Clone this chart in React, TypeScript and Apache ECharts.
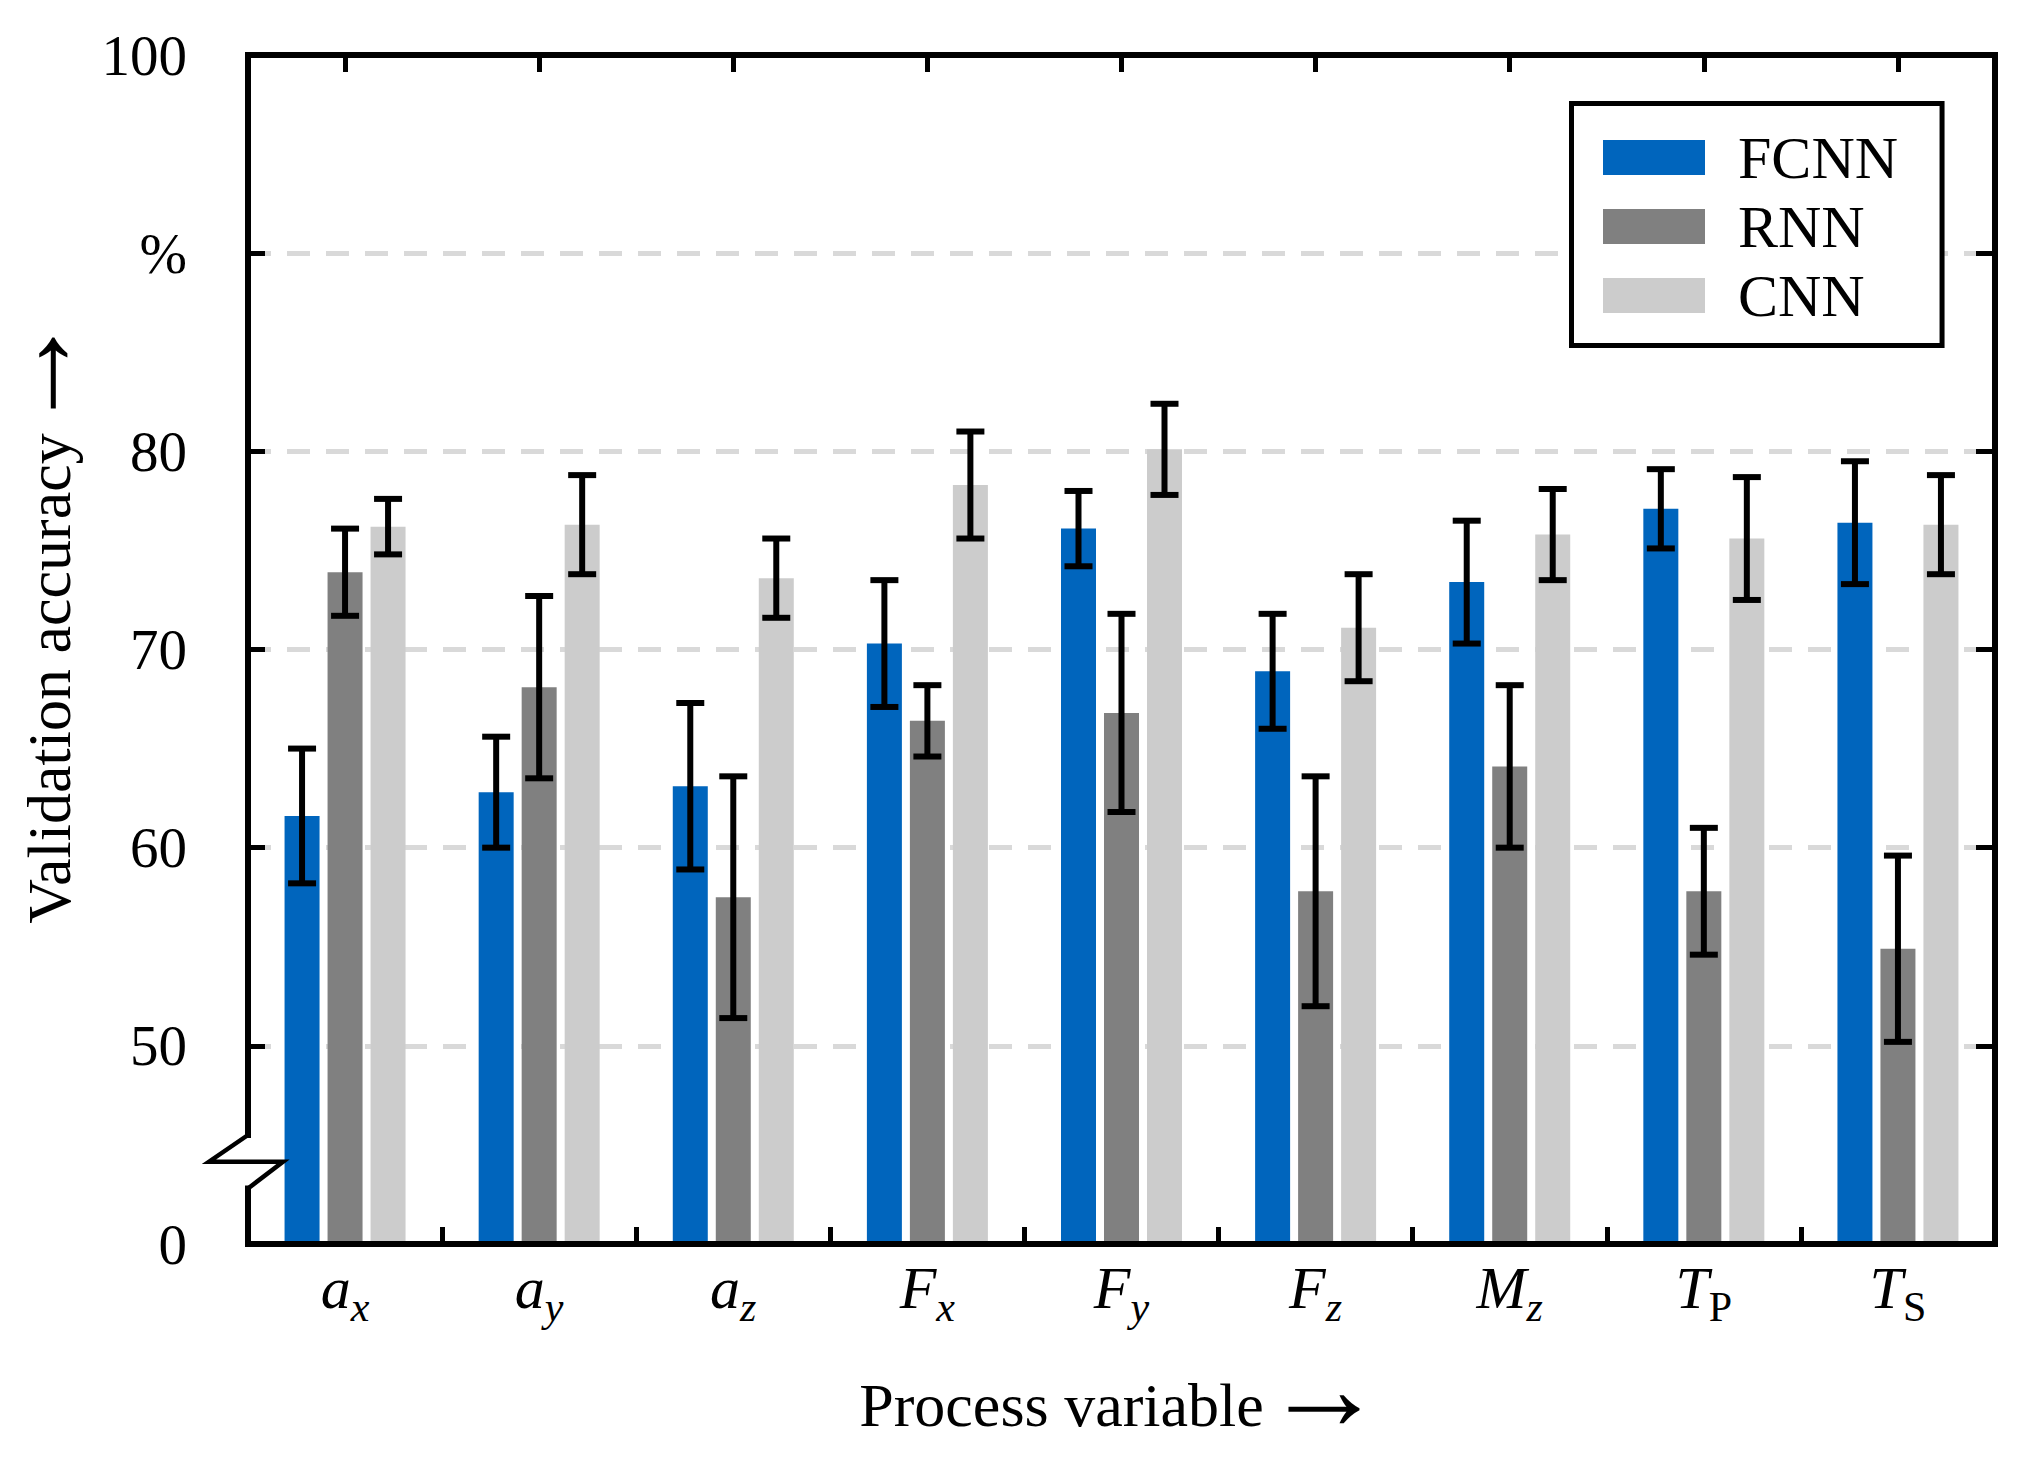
import { useEffect, useRef } from "react";
import * as echarts from "echarts";

// process variables: main symbol _ subscript
const CATEGORIES = ["a_x", "a_y", "a_z", "F_x", "F_y", "F_z", "M_z", "T_P", "T_S"];

const FCNN = [61.6, 62.8, 63.1, 70.3, 76.1, 68.9, 73.4, 77.1, 76.4];
const FCNN_ERR = [3.4, 2.8, 4.2, 3.2, 1.9, 2.9, 3.1, 2.0, 3.1];
const RNN = [73.9, 68.1, 57.5, 66.4, 66.8, 57.8, 64.1, 57.8, 54.9];
const RNN_ERR = [2.2, 4.6, 6.1, 1.8, 5.0, 5.8, 4.1, 3.2, 4.7];
const CNN = [76.2, 76.3, 73.6, 78.3, 80.1, 71.1, 75.8, 75.6, 76.3];
const CNN_ERR = [1.4, 2.5, 2.0, 2.7, 2.3, 2.7, 2.3, 3.1, 2.5];

// y axis is broken: the bottom tick (40) is shown as 0, 90 is shown as %
const Y_MIN = 40;
const Y_MAX = 100;
const Y_STEP = 10;
const BREAK_VALUES = [45.5, 44.15, 42.8];

const COLORS = { FCNN: "#0065bd", RNN: "#808080", CNN: "#cccccc" };
const FONT = "'Liberation Serif', 'Times New Roman', serif";
const GRID = { left: 248, right: 48, top: 55, bottom: 231 };
const BAR_W = 35;
const BAR_GAP = 8;
const LINE_W = 6;

const SERIES = [
    { name: "FCNN", values: FCNN, err: FCNN_ERR },
    { name: "RNN", values: RNN, err: RNN_ERR },
    { name: "CNN", values: CNN, err: CNN_ERR },
];

export default function App() {
    const ref = useRef<HTMLDivElement | null>(null);

    useEffect(() => {
        if (!ref.current) return;
        const chart = echarts.init(ref.current, undefined, { renderer: "svg" });

        const barSeries = SERIES.map((s) => ({
            name: s.name,
            type: "bar" as const,
            barWidth: BAR_W,
            barGap: `${(BAR_GAP / BAR_W) * 100}%`,
            itemStyle: { color: (COLORS as any)[s.name] },
            data: s.values,
            z: 2,
        }));

        // error bars, shifted onto their bar inside each group
        const errSeries = SERIES.map((s, si) => ({
            type: "custom" as const,
            name: s.name + " err",
            z: 4,
            encode: { x: 0, y: [1, 2] },
            data: s.values.map((v, i) => [i, +(v - s.err[i]).toFixed(2), +(v + s.err[i]).toFixed(2)]),
            renderItem: (_p: any, api: any) => {
                const off = (si - 1) * (BAR_W + BAR_GAP);
                const top = api.coord([api.value(0), api.value(2)]);
                const bot = api.coord([api.value(0), api.value(1)]);
                const x = top[0] + off;
                const cap = 14;
                const style = { stroke: "#000", lineWidth: 6, fill: "none" };
                return {
                    type: "group",
                    children: [
                        { type: "line", shape: { x1: x, y1: top[1], x2: x, y2: bot[1] }, style },
                        { type: "line", shape: { x1: x - cap, y1: top[1], x2: x + cap, y2: top[1] }, style },
                        { type: "line", shape: { x1: x - cap, y1: bot[1], x2: x + cap, y2: bot[1] }, style },
                    ],
                };
            },
        }));

        const frameLine = { show: true, lineStyle: { color: "#000", width: LINE_W, cap: "square" as const } };
        const tickStyle = { color: "#000", width: 5 };
        const arrowRich = {
            a: { fontFamily: FONT, fontSize: 120, lineHeight: 62, color: "#000", padding: [0, 0, 34, 0] },
        };

        chart.setOption({
            animation: false,
            backgroundColor: "#fff",
            grid: { ...GRID, containLabel: false, outerBoundsMode: "none" },
            legend: {
                orient: "vertical",
                left: 1571.5,
                top: 103.5,
                padding: [24, 44, 20, 31.5],
                itemWidth: 102,
                itemHeight: 35,
                itemGap: 9,
                icon: "rect",
                borderColor: "#000",
                borderWidth: 5,
                borderRadius: 0,
                backgroundColor: "#fff",
                selectedMode: false,
                textStyle: { fontFamily: FONT, fontSize: 60, color: "#000", lineHeight: 60, padding: [0, 0, 0, 28] },
                data: SERIES.map((s) => s.name),
            },
            xAxis: [
                {
                    type: "category",
                    data: CATEGORIES,
                    position: "bottom",
                    z: 5,
                    axisLine: frameLine,
                    axisTick: { show: true, inside: true, length: 17, lineStyle: tickStyle },
                    axisLabel: {
                        margin: 4,
                        interval: 0,
                        formatter: (v: string) => {
                            const [m, s] = v.split("_");
                            const roman = s === "P" || s === "S";
                            return `{m|${m}}{${roman ? "r" : "s"}|${s}}`;
                        },
                        rich: {
                            m: { fontFamily: FONT, fontStyle: "italic", fontSize: 60, color: "#000", lineHeight: 60 },
                            s: { fontFamily: FONT, fontStyle: "italic", fontSize: 42, color: "#000", padding: [38, 0, 0, 0] },
                            r: { fontFamily: FONT, fontSize: 42, color: "#000", padding: [38, 0, 0, 0] },
                        },
                    },
                    name: "Process variable{a|→}",
                    nameLocation: "middle",
                    nameGap: 130,
                    nameMoveOverlap: false,
                    nameTextStyle: { fontFamily: FONT, fontSize: 62, lineHeight: 62, color: "#000", rich: arrowRich },
                },
                {
                    type: "category",
                    data: CATEGORIES,
                    position: "top",
                    z: 5,
                    axisLine: frameLine,
                    axisTick: { show: true, inside: true, alignWithLabel: true, length: 17, lineStyle: tickStyle },
                    axisLabel: { show: false },
                },
            ],
            yAxis: [
                {
                    type: "value",
                    min: Y_MIN,
                    max: Y_MAX,
                    interval: Y_STEP,
                    z: 0,
                    axisLine: { show: false },
                    axisTick: { show: true, inside: true, length: 17, lineStyle: tickStyle },
                    axisLabel: {
                        margin: 61,
                        fontFamily: FONT,
                        fontSize: 57,
                        color: "#000",
                        formatter: (v: number) => (v === Y_MIN ? "0" : v === 90 ? "%" : String(v)),
                    },
                    splitLine: { show: true, lineStyle: { color: "#d9d9d9", width: 5, type: [23, 16] } },
                    name: "Validation accuracy{a|→}",
                    nameLocation: "middle",
                    nameGap: 168,
                    nameMoveOverlap: false,
                    nameTextStyle: {
                        fontFamily: FONT,
                        fontSize: 62,
                        lineHeight: 62,
                        color: "#000",
                        padding: [0, 0, 0, 62],
                        rich: arrowRich,
                    },
                },
                {
                    type: "value",
                    min: Y_MIN,
                    max: Y_MAX,
                    interval: Y_STEP,
                    position: "right",
                    z: 5,
                    axisLine: frameLine,
                    axisTick: { show: true, inside: true, length: 19, lineStyle: tickStyle },
                    axisLabel: { show: false },
                    splitLine: { show: false },
                },
            ],
            series: [...barSeries, ...errSeries],
        });

        // left axis line with the break symbol
        const L = GRID.left;
        const yPix = (v: number) => chart.convertToPixel({ yAxisIndex: 0 }, v) as number;
        const yTop = yPix(Y_MAX);
        const yBot = yPix(Y_MIN);
        const [b1, bm, b2] = BREAK_VALUES.map(yPix);
        const axisStyle = { stroke: "#000", lineWidth: LINE_W, fill: "none", lineCap: "square" };
        chart.setOption({
            graphic: [
                { type: "polyline", z: 10, shape: { points: [[L, yTop], [L, b1]] }, style: axisStyle },
                { type: "polyline", z: 10, shape: { points: [[L, b2], [L, yBot]] }, style: axisStyle },
                {
                    type: "polyline",
                    z: 10,
                    shape: { points: [[L, b1], [L - 39, bm], [L + 35, bm], [L, b2]] },
                    style: { stroke: "#000", lineWidth: 4.5, fill: "none", lineJoin: "miter" },
                },
            ],
        });

        return () => chart.dispose();
    }, []);

    return <div ref={ref} style={{ position: "absolute", left: 0, top: 0, width: 2043, height: 1475 }} />;
}
